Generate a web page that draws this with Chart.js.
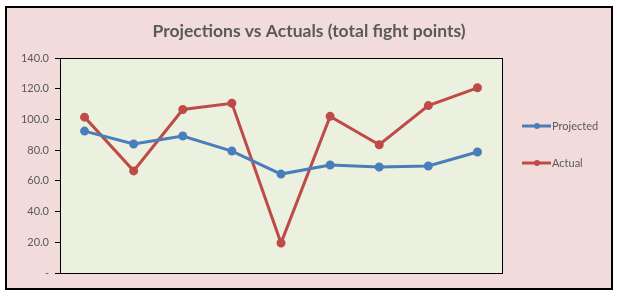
<!DOCTYPE html>
<html>
<head>
<meta charset="utf-8">
<script src="https://cdn.jsdelivr.net/npm/chart.js@4"></script>
<style>
  html, body { margin: 0; padding: 0; background: #fff; }
  #wrap { width: 617px; height: 297px; }
</style>
</head>
<body>
<div id="wrap"><canvas id="chart" width="617" height="297"></canvas></div>
<script>
// --- data ---
const categories = ['1', '2', '3', '4', '5', '6', '7', '8', '9'];
const projected = [92.4, 84.0, 89.2, 79.4, 64.4, 70.3, 69.0, 69.7, 78.8];
const actual = [101.5, 66.5, 106.5, 110.5, 19.5, 102.0, 83.5, 109.0, 120.6];
const yTicks = [0, 20, 40, 60, 80, 100, 120, 140];
const chartTitle = 'Projections vs Actuals (total fight points)';

const blue = '#4A7EBB';
const red = '#BE4B48';
const textColor = '#595959';

// background, frame, plot area fill, title
const framePlugin = {
  id: 'frame',
  beforeDraw(chart) {
    const ctx = chart.ctx;
    const a = chart.chartArea;
    ctx.save();
    ctx.fillStyle = '#fff';
    ctx.fillRect(0, 0, chart.width, chart.height);
    ctx.fillStyle = '#F2DCDB';
    ctx.fillRect(6, 7, 606, 282);
    ctx.lineWidth = 2;
    ctx.strokeStyle = '#000';
    ctx.strokeRect(6, 7, 606, 282);
    ctx.fillStyle = '#EBF1DE';
    ctx.fillRect(a.left, a.top, a.right - a.left, a.bottom - a.top);
    // title is centred on the whole frame, not the plot
    ctx.fillStyle = textColor;
    ctx.font = 'bold 17.5px Lato';
    ctx.textAlign = 'center';
    ctx.textBaseline = 'middle';
    ctx.fillText(chartTitle, 309, 31);
    ctx.restore();
  },
  afterDatasetsDraw(chart) {
    const ctx = chart.ctx;
    const a = chart.chartArea;
    ctx.save();
    ctx.strokeStyle = '#000';
    ctx.lineWidth = 1;
    ctx.strokeRect(a.left + 0.5, a.top + 0.5, a.right - a.left, a.bottom - a.top);
    ctx.restore();
  }
};

// legend: short line with a marker, then the name
const legendPlugin = {
  id: 'sideLegend',
  afterDraw(chart) {
    const ctx = chart.ctx;
    const rows = [126, 163];
    ctx.save();
    ctx.font = '11px Lato';
    ctx.textBaseline = 'middle';
    chart.data.datasets.forEach((ds, i) => {
      const y = rows[i];
      ctx.strokeStyle = ds.borderColor;
      ctx.lineWidth = 3;
      ctx.beginPath();
      ctx.moveTo(522, y);
      ctx.lineTo(551, y);
      ctx.stroke();
      ctx.fillStyle = ds.borderColor;
      ctx.beginPath();
      ctx.arc(537, y, 3, 0, Math.PI * 2);
      ctx.fill();
      ctx.fillStyle = textColor;
      ctx.fillText(ds.label, 552, y);
    });
    ctx.restore();
  }
};

new Chart(document.getElementById('chart').getContext('2d'), {
  type: 'line',
  data: {
    labels: categories,
    datasets: [
      {
        label: 'Projected',
        data: projected,
        borderColor: blue,
        backgroundColor: blue,
        borderWidth: 3,
        pointRadius: 3,
        pointHoverRadius: 3,
        tension: 0
      },
      {
        label: 'Actual',
        data: actual,
        borderColor: red,
        backgroundColor: red,
        borderWidth: 3,
        pointRadius: 3,
        pointHoverRadius: 3,
        tension: 0
      }
    ]
  },
  options: {
    responsive: false,
    animation: false,
    layout: { padding: { left: 0, right: 115, top: 58, bottom: 24 } },
    plugins: {
      legend: { display: false },
      tooltip: { enabled: false },
      title: { display: false }
    },
    scales: {
      x: {
        offset: true,
        afterFit(scale) { scale.height = 0; },
        grid: { display: false },
        border: { display: true, color: '#000' },
        ticks: { display: false }
      },
      y: {
        min: 0,
        max: 140,
        afterBuildTicks(scale) {
          scale.ticks = yTicks.map(v => ({ value: v }));
        },
        afterFit(scale) { scale.width = 60; },
        grid: { drawOnChartArea: false, drawTicks: true, tickLength: 5, color: '#000' },
        border: { display: true, color: '#000' },
        ticks: {
          color: textColor,
          font: { family: 'Lato', size: 11 },
          padding: 6,
          callback: v => v === 0 ? '-' : v.toFixed(1)
        }
      }
    }
  },
  plugins: [framePlugin, legendPlugin]
});
</script>
</body>
</html>
